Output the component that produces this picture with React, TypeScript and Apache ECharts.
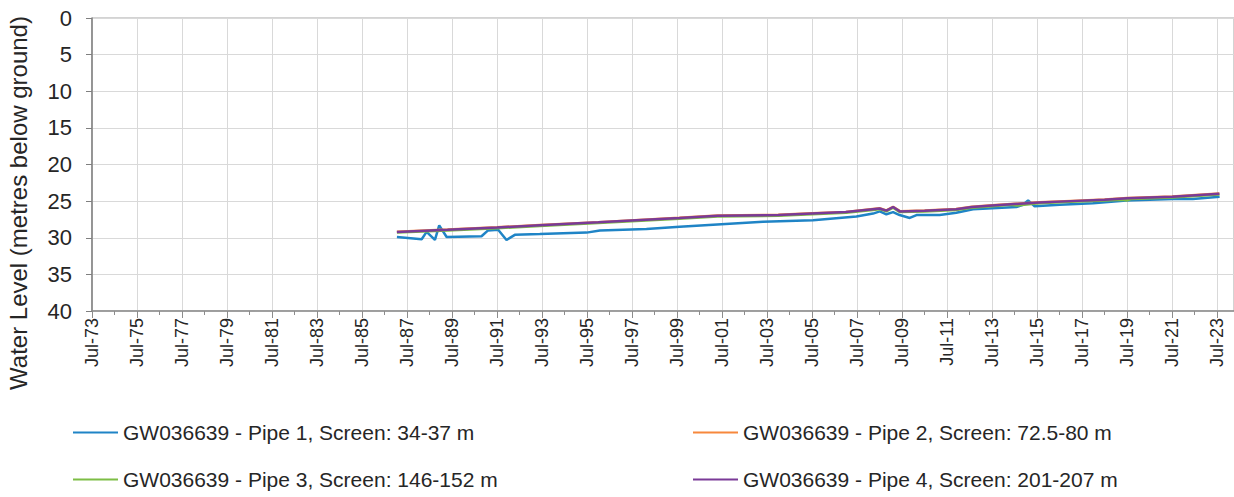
import React, { useEffect, useRef } from "react";
import * as echarts from "echarts";

// x values are decimal years, y values are metres below ground
const START_YEAR = 1973.5; // Jul-73
const AXIS_END_YEAR = 2024.25;

const yTicks = [0, 5, 10, 15, 20, 25, 30, 35, 40];

const seriesNames = [
  "GW036639 - Pipe 1, Screen: 34-37 m",
  "GW036639 - Pipe 2, Screen: 72.5-80 m",
  "GW036639 - Pipe 3, Screen: 146-152 m",
  "GW036639 - Pipe 4, Screen: 201-207 m",
];

const pipe1Years = [
  1987.05, 1988.15, 1988.37, 1988.74, 1988.93, 1989.26, 1990.81, 1991.1, 1991.55, 1991.92,
  1992.29, 1993.4, 1995.48, 1996.07, 1998.14, 1999.62, 2003.32, 2005.54, 2007.47, 2008.21,
  2008.51, 2008.8, 2009.1, 2009.39, 2009.84, 2010.14, 2011.17, 2011.91, 2012.65, 2014.58,
  2014.87, 2015.1, 2015.39, 2016.5, 2017.98, 2019.46, 2021.53, 2022.42, 2023.61,
];
const pipe1Levels = [
  29.9, 30.2, 29.2, 30.3, 28.3, 29.9, 29.8, 29.0, 28.9, 30.3,
  29.6, 29.5, 29.3, 29.0, 28.8, 28.5, 27.8, 27.6, 27.1, 26.7,
  26.4, 26.8, 26.5, 26.9, 27.3, 26.9, 26.9, 26.6, 26.1, 25.8,
  25.5, 24.9, 25.7, 25.5, 25.3, 24.9, 24.7, 24.7, 24.4,
];

const pipe2Years = [
  1987.05, 1989.3, 1991.5, 1993.4, 1996.0, 1999.6, 2001.3, 2004.0, 2005.5, 2007.0,
  2008.2, 2008.5, 2008.8, 2009.1, 2009.4, 2010.5, 2011.9, 2012.6, 2013.5, 2014.5,
  2015.6, 2017.0, 2018.5, 2019.5, 2021.5, 2023.6,
];
const pipe2Levels = [
  29.17, 28.87, 28.57, 28.27, 27.87, 27.27, 26.97, 26.87, 26.67, 26.47,
  26.07, 25.97, 26.27, 25.77, 26.37, 26.27, 26.07, 25.77, 25.57, 25.37,
  25.17, 24.97, 24.77, 24.57, 24.37, 23.97,
];

const pipe3Years = [
  1987.05, 1989.3, 1991.5, 1993.4, 1996.0, 1999.6, 2001.3, 2004.0, 2005.5, 2007.0,
  2008.2, 2008.5, 2008.8, 2009.1, 2009.4, 2010.5, 2011.9, 2012.6, 2013.5, 2014.3,
  2014.6, 2015.6, 2017.0, 2018.5, 2019.3, 2019.5, 2019.7, 2021.5, 2023.6,
];
const pipe3Levels = [
  29.3, 29.0, 28.7, 28.4, 28.0, 27.4, 27.1, 27.0, 26.8, 26.6,
  26.2, 26.1, 26.4, 25.9, 26.5, 26.4, 26.2, 25.9, 25.7, 25.5,
  25.6, 25.3, 25.1, 24.9, 24.8, 24.9, 24.7, 24.5, 24.1,
];

const pipe4Years = [
  1987.05, 1989.3, 1991.5, 1993.4, 1996.0, 1999.6, 2001.3, 2004.0, 2005.5, 2007.0,
  2008.2, 2008.5, 2008.8, 2009.1, 2009.4, 2010.5, 2011.9, 2012.6, 2013.5, 2014.5,
  2015.6, 2017.0, 2018.5, 2019.5, 2021.5, 2023.6,
];
const pipe4Levels = [
  29.2, 28.9, 28.6, 28.3, 27.9, 27.3, 27.0, 26.9, 26.7, 26.5,
  26.1, 26.0, 26.3, 25.8, 26.4, 26.3, 26.1, 25.8, 25.6, 25.4,
  25.2, 25.0, 24.8, 24.6, 24.4, 24.0,
];

const colors = ["#1f84c6", "#f7883c", "#7dbd45", "#7a3a97"];

const toPoints = (years: number[], levels: number[]) =>
  years.map((yr, i) => [yr - START_YEAR, levels[i]]);

const seriesData = [
  toPoints(pipe1Years, pipe1Levels),
  toPoints(pipe2Years, pipe2Levels),
  toPoints(pipe3Years, pipe3Levels),
  toPoints(pipe4Years, pipe4Levels),
];

const FONT = "'Liberation Sans', Arial, sans-serif";
const TEXT_COLOR = "#262626";

// legend slot: [left, top] for each series
const legendSlots = [
  [73, 422],
  [693, 422],
  [73, 469],
  [693, 469],
];

export default function App() {
  const ref = useRef<HTMLDivElement>(null);

  useEffect(() => {
    if (!ref.current) return;
    const chart = echarts.init(ref.current, undefined, { renderer: "svg" });
    chart.setOption({
      animation: false,
      backgroundColor: "#ffffff",
      grid: {
        left: 92,
        right: 0,
        top: 18,
        bottom: 186,
        show: true,
        borderColor: "#a6a6a6",
        borderWidth: 1,
        backgroundColor: "transparent",
      },
      xAxis: {
        type: "value",
        min: 0,
        max: AXIS_END_YEAR - START_YEAR,
        interval: 2,
        axisLine: { show: true, onZero: false, lineStyle: { color: "#8c8c8c", width: 1.5 } },
        axisTick: { show: true, length: 7, lineStyle: { color: "#8c8c8c" } },
        minorTick: { show: true, splitNumber: 2, length: 4, lineStyle: { color: "#8c8c8c" } },
        splitLine: { show: true, lineStyle: { color: "#d9d9d9", width: 1 } },
        axisLabel: {
          rotate: 90,
          margin: 7,
          fontSize: 18,
          fontFamily: FONT,
          color: TEXT_COLOR,
          showMaxLabel: false,
          formatter: (v: number) => {
            const r = Math.round(v);
            if (Math.abs(v - r) > 1e-6 || r % 2 !== 0) return "";
            const yy = (73 + r) % 100;
            return "Jul-" + (yy < 10 ? "0" + yy : String(yy));
          },
        },
      },
      yAxis: {
        type: "value",
        inverse: true,
        min: yTicks[0],
        max: yTicks[yTicks.length - 1],
        interval: 5,
        axisLine: { show: true, lineStyle: { color: "#7f7f7f", width: 1.5 } },
        axisTick: { show: true, length: 6, lineStyle: { color: "#7f7f7f" } },
        splitLine: { show: true, lineStyle: { color: "#d9d9d9", width: 1 } },
        axisLabel: {
          margin: 20,
          fontSize: 22,
          fontFamily: FONT,
          color: TEXT_COLOR,
        },
      },
      legend: seriesNames.map((name, i) => ({
        data: [name],
        left: legendSlots[i][0],
        top: legendSlots[i][1],
        icon: "rect",
        itemWidth: 45,
        itemHeight: 2,
        itemGap: 5,
        padding: 0,
        textStyle: { fontSize: 21, fontFamily: FONT, color: TEXT_COLOR, lineHeight: 21 },
      })),
      graphic: [
        {
          type: "text",
          x: 18,
          y: 203,
          rotation: Math.PI / 2,
          style: {
            text: "Water Level (metres below ground)",
            fontSize: 24,
            fontFamily: FONT,
            fill: TEXT_COLOR,
            textAlign: "center",
            textVerticalAlign: "middle",
          },
        },
      ],
      series: seriesNames.map((name, i) => ({
        name,
        type: "line",
        data: seriesData[i],
        showSymbol: false,
        symbol: "none",
        color: colors[i],
        lineStyle: { color: colors[i], width: 2.5 },
        z: 2 + i,
      })),
    });
    return () => chart.dispose();
  }, []);

  return (
    <div
      ref={ref}
      style={{ position: "absolute", left: 0, top: 0, width: 1234, height: 497 }}
    />
  );
}
